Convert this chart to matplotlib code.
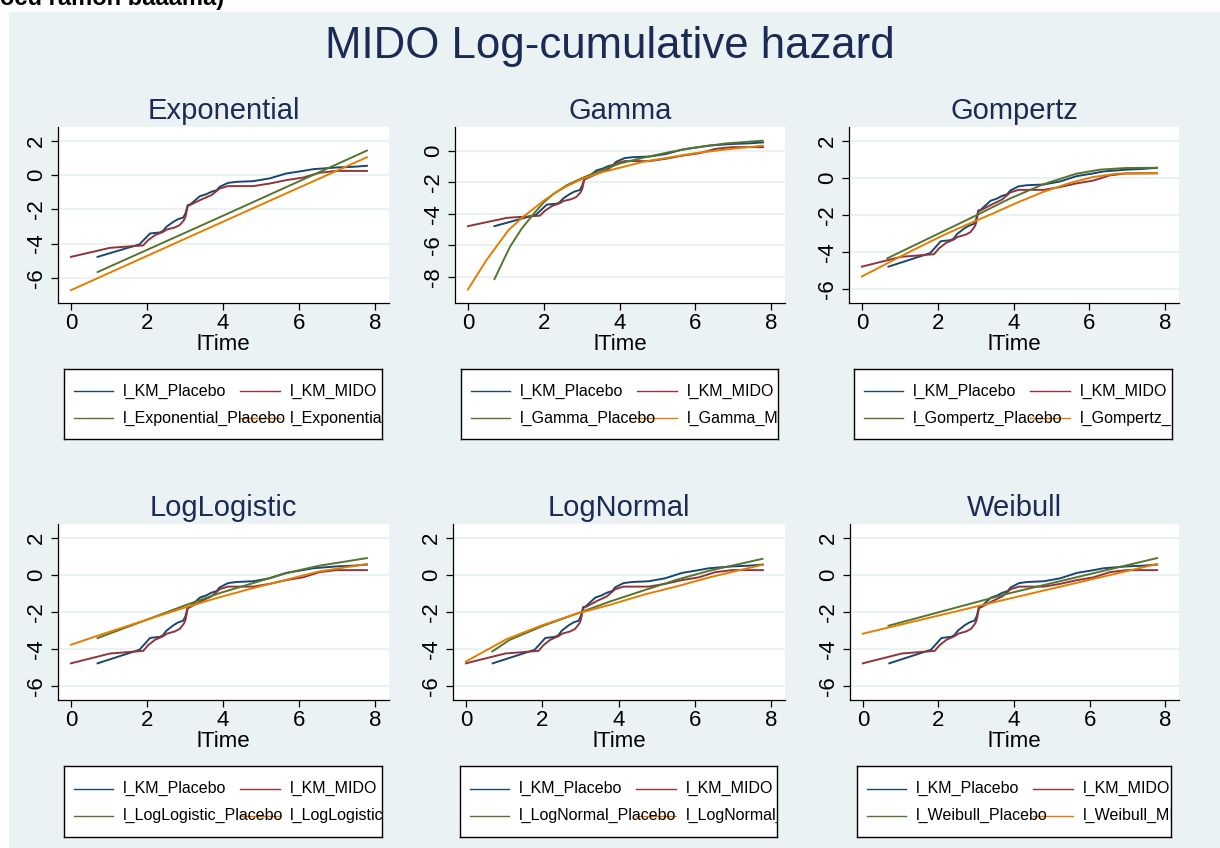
import matplotlib
matplotlib.use("Agg")
import matplotlib.pyplot as plt
from matplotlib.patches import Rectangle

plt.rcParams['font.family'] = ['Liberation Sans', 'DejaVu Sans']
plt.rcParams['axes.unicode_minus'] = False

# ---------------- data (log time vs log cumulative hazard) ----------------
km_placebo_t = [0.70, 1.80, 2.08, 2.34, 2.42, 2.51, 2.69, 2.82, 2.95, 3.01, 3.07, 3.13,
                3.39, 3.56, 3.69, 3.83, 3.91, 4.13, 4.35, 4.79, 5.22, 5.66, 6.10, 6.36,
                6.97, 7.41, 7.78]
km_placebo_y = [-4.78, -4.05, -3.41, -3.35, -3.26, -3.02, -2.73, -2.57, -2.48, -2.24, -1.75, -1.72,
                -1.23, -1.11, -0.97, -0.88, -0.68, -0.45, -0.39, -0.35, -0.19, 0.10, 0.25, 0.35,
                0.45, 0.49, 0.55]

km_mido_t = [0.00, 1.03, 1.90, 2.03, 2.21, 2.43, 2.52, 2.73, 2.86, 2.97, 3.01, 3.07, 3.21,
             3.43, 3.69, 3.91, 4.13, 4.79, 5.22, 5.66, 6.10, 6.53, 6.97, 7.78]
km_mido_y = [-4.78, -4.25, -4.11, -3.80, -3.51, -3.31, -3.18, -3.06, -2.92, -2.63, -2.44, -1.81, -1.66,
             -1.42, -1.17, -0.78, -0.64, -0.64, -0.49, -0.29, -0.14, 0.14, 0.25, 0.25]

exponential_placebo_t = [0.70, 4.00, 7.78]
exponential_placebo_y = [-5.67, -2.37, 1.44]
exponential_mido_t = [0.00, 4.00, 7.78]
exponential_mido_y = [-6.73, -2.72, 1.05]

gamma_placebo_t = [0.70, 1.11, 1.42, 1.73, 1.99, 2.25, 2.61, 3.05, 3.49, 4.01, 4.63, 5.33, 5.95, 6.83, 7.77]
gamma_placebo_y = [-8.15, -6.09, -4.93, -4.01, -3.29, -2.74, -2.17, -1.68, -1.25, -0.79, -0.42, -0.06, 0.21, 0.49, 0.66]
gamma_mido_t = [0.00, 0.49, 1.07, 1.46, 1.99, 2.25, 2.61, 3.05, 3.49, 4.01, 4.63, 5.33, 5.95, 6.83, 7.77]
gamma_mido_y = [-8.81, -6.94, -5.03, -4.18, -3.18, -2.74, -2.23, -1.74, -1.38, -1.06, -0.68, -0.40, -0.15, 0.11, 0.34]

gompertz_placebo_t = [0.67, 2.94, 3.90, 4.78, 5.65, 6.27, 6.97, 7.78]
gompertz_placebo_y = [-4.33, -2.09, -1.11, -0.34, 0.23, 0.45, 0.54, 0.55]
gompertz_mido_t = [0.00, 0.67, 1.27, 2.15, 2.94, 3.46, 4.08, 4.78, 5.48, 6.09, 6.70, 7.78]
gompertz_mido_y = [-5.31, -4.60, -3.97, -3.08, -2.36, -1.91, -1.34, -0.75, -0.27, 0.05, 0.23, 0.27]

loglogistic_placebo_t = [0.70, 1.99, 3.04, 3.91, 4.79, 5.66, 6.53, 7.78]
loglogistic_placebo_y = [-3.42, -2.43, -1.62, -0.99, -0.45, 0.09, 0.49, 0.90]
loglogistic_mido_t = [0.00, 0.70, 1.99, 3.04, 3.91, 4.79, 5.66, 6.53, 7.78]
loglogistic_mido_y = [-3.78, -3.29, -2.43, -1.74, -1.21, -0.72, -0.27, 0.18, 0.58]

lognormal_placebo_t = [0.69, 1.15, 2.03, 2.90, 3.78, 4.65, 5.52, 6.40, 7.77]
lognormal_placebo_y = [-4.14, -3.51, -2.75, -2.10, -1.44, -0.85, -0.27, 0.23, 0.86]
lognormal_mido_t = [0.00, 1.07, 2.03, 2.90, 3.78, 4.65, 5.52, 6.40, 7.77]
lognormal_mido_y = [-4.68, -3.47, -2.70, -2.10, -1.62, -1.08, -0.63, -0.13, 0.54]

weibull_placebo_t = [0.68, 3.89, 7.78]
weibull_placebo_y = [-2.75, -0.99, 0.90]
weibull_mido_t = [0.00, 3.89, 7.78]
weibull_mido_y = [-3.18, -1.28, 0.58]

model_names = ["Exponential", "Gamma", "Gompertz", "LogLogistic", "LogNormal", "Weibull"]
fits = [
    (exponential_placebo_t, exponential_placebo_y, exponential_mido_t, exponential_mido_y),
    (gamma_placebo_t, gamma_placebo_y, gamma_mido_t, gamma_mido_y),
    (gompertz_placebo_t, gompertz_placebo_y, gompertz_mido_t, gompertz_mido_y),
    (loglogistic_placebo_t, loglogistic_placebo_y, loglogistic_mido_t, loglogistic_mido_y),
    (lognormal_placebo_t, lognormal_placebo_y, lognormal_mido_t, lognormal_mido_y),
    (weibull_placebo_t, weibull_placebo_y, weibull_mido_t, weibull_mido_y),
]
x_ticks = [0, 2, 4, 6, 8]
y_ticks_list = [[-6, -4, -2, 0, 2], [-8, -6, -4, -2, 0], [-6, -4, -2, 0, 2],
                [-6, -4, -2, 0, 2], [-6, -4, -2, 0, 2], [-6, -4, -2, 0, 2]]
y_limits = [(-7.48, 2.82), (-9.67, 1.53), (-6.74, 2.75),
            (-6.76, 2.74), (-6.76, 2.74), (-6.76, 2.74)]
x_label = "lTime"
main_title = "MIDO Log-cumulative hazard"

# ---------------- styling ----------------
NAVY, MAROON, GREEN, ORANGE = "#1a476f", "#90353b", "#55752f", "#e37e00"
BG = "#eaf2f3"
TITLE_C = "#1c2b55"

W, H = 1220, 848
fig = plt.figure(figsize=(W / 100, H / 100), dpi=100, facecolor="white")

def fx(px):
    return px / W

def fy(py):
    return 1 - py / H

fig.patches.append(Rectangle((fx(9), 0), 1 - fx(9), fy(12), transform=fig.transFigure,
                             facecolor=BG, edgecolor="none", zorder=-10))
fig.text(0.0, fy(5), "ocu ramon baaama)", fontsize=17, fontweight="bold",
         color="black", va="baseline", ha="left")
fig.text(fx(610), fy(58), main_title, fontsize=31.5, color=TITLE_C, ha="center", va="baseline")

axes_px = [(58, 127, 389, 303), (455, 127, 785, 303), (849, 127, 1179, 303),
           (58, 524, 389, 700), (453, 524, 785, 700), (850, 524, 1179, 700)]
legend_px = [(64, 369, 382, 439), (461, 369, 778, 439), (854, 369, 1172, 439),
             (64, 766, 382, 837), (460, 766, 777, 837), (857, 766, 1171, 837)]

for i, name in enumerate(model_names):
    l, t, r, b = axes_px[i]
    ax = fig.add_axes([fx(l), fy(b), fx(r) - fx(l), (b - t) / H])
    ax.set_facecolor("white")
    ax.set_axisbelow(True)
    ax.yaxis.grid(True, color=BG, lw=1.4)
    pt, py, mt, my = fits[i]
    ax.plot(km_placebo_t, km_placebo_y, color=NAVY, lw=1.4)
    ax.plot(km_mido_t, km_mido_y, color=MAROON, lw=1.4)
    ax.plot(pt, py, color=GREEN, lw=1.4)
    ax.plot(mt, my, color=ORANGE, lw=1.4)
    ax.set_xlim(-0.34, 8.36)
    ax.set_ylim(*y_limits[i])
    ax.set_xticks(x_ticks)
    ax.set_yticks(y_ticks_list[i])
    for s in ("top", "right"):
        ax.spines[s].set_visible(False)
    for s in ("left", "bottom"):
        ax.spines[s].set_linewidth(0.9)
    ax.tick_params(direction="out", length=5, width=0.9, labelsize=16, pad=2, colors="black")
    ax.tick_params(axis="y", labelrotation=90, pad=3)
    for lb in ax.get_yticklabels():
        lb.set_va("center")
    ax.set_xlabel(x_label, fontsize=16, labelpad=0)
    ax.set_title(name, fontsize=21, color=TITLE_C, pad=6)

    # legend box
    l2, t2, r2, b2 = legend_px[i]
    lw_px = r2 - l2
    lax = fig.add_axes([fx(l2), fy(b2), fx(r2) - fx(l2), (b2 - t2) / H])
    lax.set_xlim(0, 1)
    lax.set_ylim(0, 1)
    lax.set_xticks([])
    lax.set_yticks([])
    lax.set_facecolor("white")
    for s in lax.spines.values():
        s.set_linewidth(1.0)
        s.set_color("black")
    labels = ["l_KM_Placebo", "l_KM_MIDO", f"l_{name}_Placebo", f"l_{name}_MIDO"]
    colors = [NAVY, MAROON, GREEN, ORANGE]
    rows = [0.68, 0.30]
    cols = [(10, 49, 59), (176, 216, 226)]
    for k in range(4):
        row = rows[k // 2]
        h0, h1, tx = cols[k % 2]
        lax.plot([h0 / lw_px, h1 / lw_px], [row, row], color=colors[k], lw=1.0)
        lax.text(tx / lw_px, row, labels[k], fontsize=11.5, color="black",
                 va="center", ha="left", clip_on=True)

fig.savefig("out.png", dpi=100, facecolor="white")
